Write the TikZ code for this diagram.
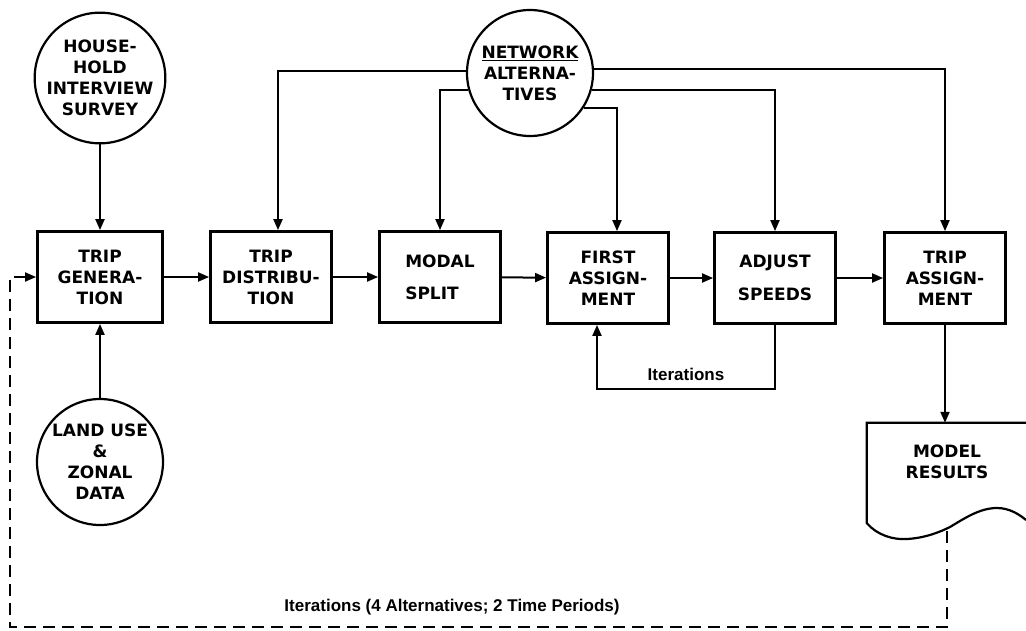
\documentclass[tikz,border=0pt]{standalone}
\usepackage{fontspec}
\setmainfont{DejaVu Sans}
\newfontfamily\notefont{Liberation Sans}
\usetikzlibrary{shapes,arrows.meta,positioning,calc}

\begin{document}
\begin{tikzpicture}[x=1pt, y=-1pt,
    process/.style={rectangle, draw, line width=2.8pt, minimum width=121pt,
                    minimum height=91pt, align=center, inner sep=0pt,
                    font=\fontsize{17}{21}\selectfont\bfseries},
    source/.style={circle, draw, line width=2.2pt, minimum size=126pt,
                   inner sep=0pt, align=center,
                   font=\fontsize{17}{21}\selectfont\bfseries},
    note/.style={font=\notefont\fontsize{17}{20}\selectfont\bfseries},
    arrow/.style={-{Triangle[length=11pt,width=9pt]}, line width=2pt},
    feedback/.style={arrow, line width=1.8pt, dash pattern=on 12pt off 7pt}]

\useasboundingbox (0,0) rectangle (1026,630);

% Inputs
\node[source] (house) at (100,78) {HOUSE-\\HOLD\\INTERVIEW\\SURVEY};
\node[source] (land) at (100,462) {LAND USE\\\&\\ZONAL\\DATA};
\node[source] (net) at (530,73) {\underline{NETWORK}\\ALTERNA-\\TIVES};

% Model steps
\node[process, minimum width=125pt] (gen) at (100,277) {TRIP\\GENERA-\\TION};
\node[process] (dist) at (271,277) {TRIP\\DISTRIBU-\\TION};
\node[process, align=left] (modal) at (440,277) {MODAL\\[11pt]SPLIT};
\node[process] (first) at (608,278) {FIRST\\ASSIGN-\\MENT};
\node[process] (adjust) at (775,278) {ADJUST\\[12pt]SPEEDS};
\node[process] (assign) at (945,278) {TRIP\\ASSIGN-\\MENT};

% Output document
\node[minimum width=159pt, minimum height=100pt, inner sep=0pt] (results) at (946.5,473) {};
\node[font=\fontsize{17}{21}\selectfont\bfseries, align=center] (resultstext) at (947,462) {MODEL\\RESULTS};
\draw[line width=2.2pt] (results.north east) -- (results.north west) -- (results.south west)
    .. controls (877,535) and (893,540) .. (907,539)
    .. controls (925,538) and (940,532) .. (950,527)
    .. controls (965,518) and (980,508) .. (997,508)
    .. controls (1010,508) and (1020,515) .. (1026,520);

% Arrows
\draw[arrow] (house) -- (gen);
\draw[arrow] (land) -- (gen);
\draw[arrow] (gen) -- (dist);
\draw[arrow] (dist) -- (modal);
\draw[arrow] (modal) -- (first);
\draw[arrow] (first) -- (adjust);
\draw[arrow] (adjust) -- (assign);
\draw[arrow] (assign) -- (results.north -| assign);

% Network alternatives
\draw[arrow] (net.178) -| ([xshift=7pt]dist.north);
\draw[arrow] (net.195) -| (modal.north);
\draw[arrow] (net.-33) -| ([xshift=9pt]first.north);
\draw[arrow] (net.-15) -| (adjust.north);
\draw[arrow] (net.4) -| (assign.north);

% Iteration loops
\draw[arrow] (adjust.south) -- ++(0,64) -| node[pos=0.25, above=4pt, note] (iter) {Iterations} ([xshift=-11pt]first.south);
\coordinate (fbstart) at (947,531);
\coordinate (fbcorner) at (10,627);
\draw[feedback] (fbstart) |- (fbcorner) |- (gen.west);
\node[note] (iterlabel) at (452,607) {Iterations (4 Alternatives; 2 Time Periods)};
\end{tikzpicture}
\end{document}
